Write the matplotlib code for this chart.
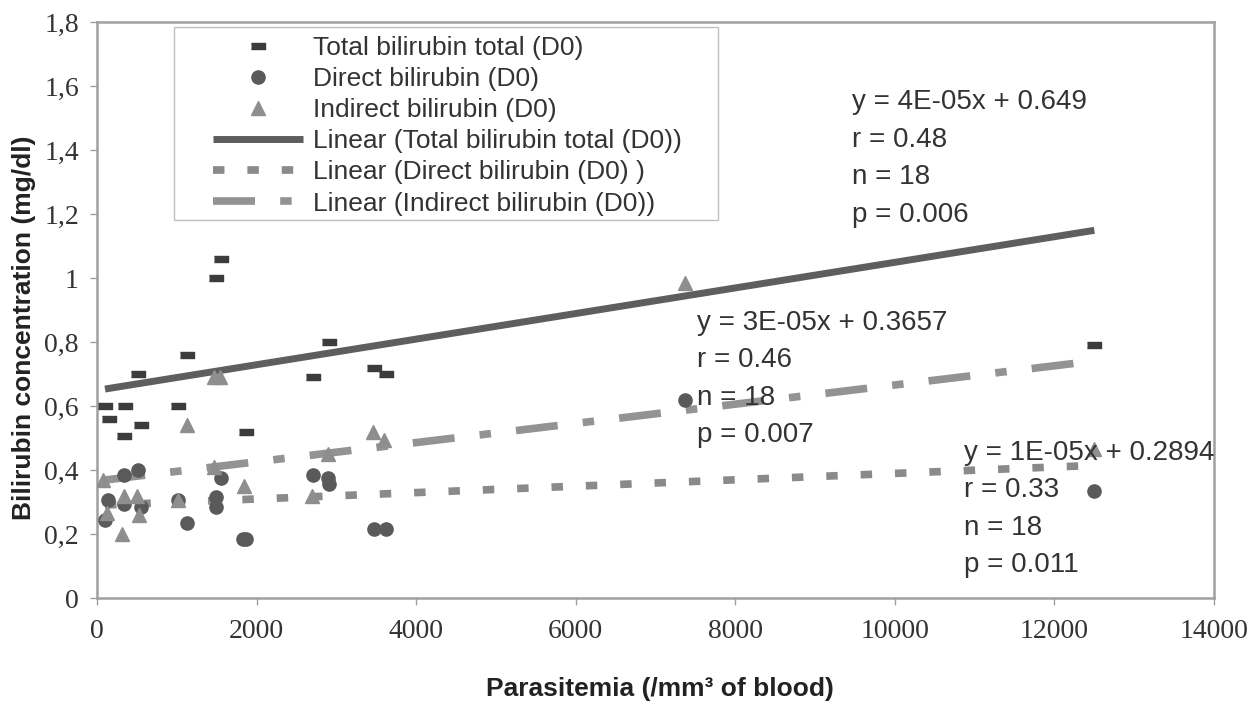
import matplotlib
matplotlib.use("Agg")
import matplotlib.pyplot as plt
from matplotlib.patches import Rectangle
import numpy as np

# values (parasitemia /mm3, bilirubin mg/dl)
total_x = [100, 146, 351, 338, 518, 547, 1019, 1132, 1491, 1554, 1863,
           2707, 2911, 3475, 3622, 12500]
total_y = [0.60, 0.56, 0.60, 0.505, 0.70, 0.54, 0.60, 0.76, 1.00, 1.06, 0.52,
           0.69, 0.80, 0.72, 0.70, 0.79]

direct_x = [100, 142, 338, 338, 518, 547, 1019, 1132, 1491, 1491, 1550,
            1830, 1870, 2707, 2900, 2911, 3475, 3622, 7368, 12500]
direct_y = [0.245, 0.305, 0.385, 0.295, 0.40, 0.285, 0.305, 0.235, 0.315, 0.285, 0.375,
            0.185, 0.185, 0.385, 0.375, 0.355, 0.215, 0.215, 0.62, 0.335]

indirect_x = [80, 130, 318, 338, 497, 530, 1010, 1123, 1470, 1540, 1470,
              1846, 2690, 2890, 3454, 3600, 7368, 12500]
indirect_y = [0.37, 0.265, 0.20, 0.32, 0.32, 0.26, 0.305, 0.54, 0.69, 0.69, 0.41,
              0.35, 0.32, 0.45, 0.52, 0.495, 0.985, 0.465]

# trend line coefficients as printed on the chart
fit_slope = {"total": 4e-05, "direct": 1e-05, "indirect": 3e-05}
fit_icpt = {"total": 0.649, "direct": 0.2894, "indirect": 0.3657}

labels = ["Total bilirubin total (D0)", "Direct bilirubin (D0)", "Indirect bilirubin (D0)",
          "Linear (Total bilirubin total (D0))", "Linear (Direct bilirubin (D0) )",
          "Linear (Indirect bilirubin (D0))"]

# (x, y of last line baseline, text)
notes = [
    (9463, 1.176, "y = 4E-05x + 0.649\nr = 0.48\nn = 18\np = 0.006"),
    (7522, 0.487, "y = 3E-05x + 0.3657\nr = 0.46\nn = 18\np = 0.007"),
    (10864, 0.081, "y = 1E-05x + 0.2894\nr = 0.33\nn = 18\np = 0.011"),
]

yticks = [0, 0.2, 0.4, 0.6, 0.8, 1.0, 1.2, 1.4, 1.6, 1.8]
ytick_labels = ["0", "0,2", "0,4", "0,6", "0,8", "1", "1,2", "1,4", "1,6", "1,8"]
xticks = [0, 2000, 4000, 6000, 8000, 10000, 12000, 14000]

fig = plt.figure(figsize=(12.53, 7.08), dpi=100)
ax = fig.add_axes([97 / 1253, 110 / 708, 1117 / 1253, 576 / 708])

dash_marker = [(-1, -0.43), (1, -0.43), (1, 0.43), (-1, 0.43)]

c_total = "#3c3c3c"
c_direct = "#5a5a5a"
c_indirect = "#8e8e8e"

h1, = ax.plot(total_x, total_y, ls="none", marker=dash_marker, ms=10.5,
              color=c_total, mec=c_total, zorder=4)
h2, = ax.plot(direct_x, direct_y, ls="none", marker="o", ms=9.5,
              color=c_direct, mec=c_direct, zorder=4)
h3, = ax.plot(indirect_x, indirect_y, ls="none", marker="^", ms=10,
              color=c_indirect, mec=c_indirect, zorder=4)

def trend(xs, key):
    xx = np.array([min(xs), max(xs)])
    return xx, fit_slope[key] * xx + fit_icpt[key]

xx, yy = trend(total_x, "total")
h4, = ax.plot(xx, yy, color="#5e5e5e", lw=5, solid_capstyle="butt", zorder=3)
xx, yy = trend(direct_x, "direct")
h5, = ax.plot(xx, yy, color="#8a8a8a", lw=5.5, dashes=(1.5, 3.0), zorder=3)
xx, yy = trend(indirect_x, "indirect")
h6, = ax.plot(xx, yy, color="#939393", lw=5.5, dashes=(5.5, 3.3, 1.5, 3.3), zorder=3)

ax.set_xlim(0, 14000)
ax.set_ylim(0, 1.8)
ax.set_xticks(xticks)
ax.set_xticklabels([str(t) for t in xticks])
ax.set_yticks(yticks)
ax.set_yticklabels(ytick_labels)

for s in ax.spines.values():
    s.set_color("#a0a0a0")
    s.set_linewidth(1.8)

ax.tick_params(axis="both", direction="out", length=5, width=1, color="#a0a0a0",
               labelcolor="#333333")
ax.tick_params(axis="x", pad=10)
ax.tick_params(axis="y", pad=8)
for lab in ax.get_xticklabels() + ax.get_yticklabels():
    lab.set_fontfamily("Liberation Serif")
    lab.set_fontsize(20)

ax.set_xlabel("Parasitemia (/mm³ of blood)", fontsize=19, fontweight="bold",
              family="Liberation Sans", color="#222222")
ax.set_ylabel("Bilirubin concentration (mg/dl)", fontsize=19, fontweight="bold",
              family="Liberation Sans", color="#222222")
ax.xaxis.set_label_coords(0.504, -0.137)
ax.yaxis.set_label_coords(-0.055, 0.469)

for x, y, t in notes:
    ax.text(x, y, t, fontsize=20, family="Liberation Sans", color="#333333",
            va="baseline", ha="left", linespacing=1.57, zorder=5)

# legend frame
ax.add_patch(Rectangle((77 / 1117, (598 - 220) / 576), (718 - 174) / 1117, 193 / 576,
                       transform=ax.transAxes, facecolor="white", edgecolor="#c0c0c0",
                       lw=1, zorder=2))
leg = ax.legend([h1, h2, h3, h4, h5, h6], labels, loc="upper left",
                bbox_to_anchor=(213 / 1253, 1 - 36 / 708), bbox_transform=fig.transFigure,
                frameon=False, borderpad=0, borderaxespad=0, handlelength=3.4,
                handletextpad=0.4, labelspacing=0.27,
                prop={"family": "Liberation Sans", "size": 19})
for t in leg.get_texts():
    t.set_color("#333333")
leg.set_zorder(6)

fig.savefig("out.png", dpi=100)
